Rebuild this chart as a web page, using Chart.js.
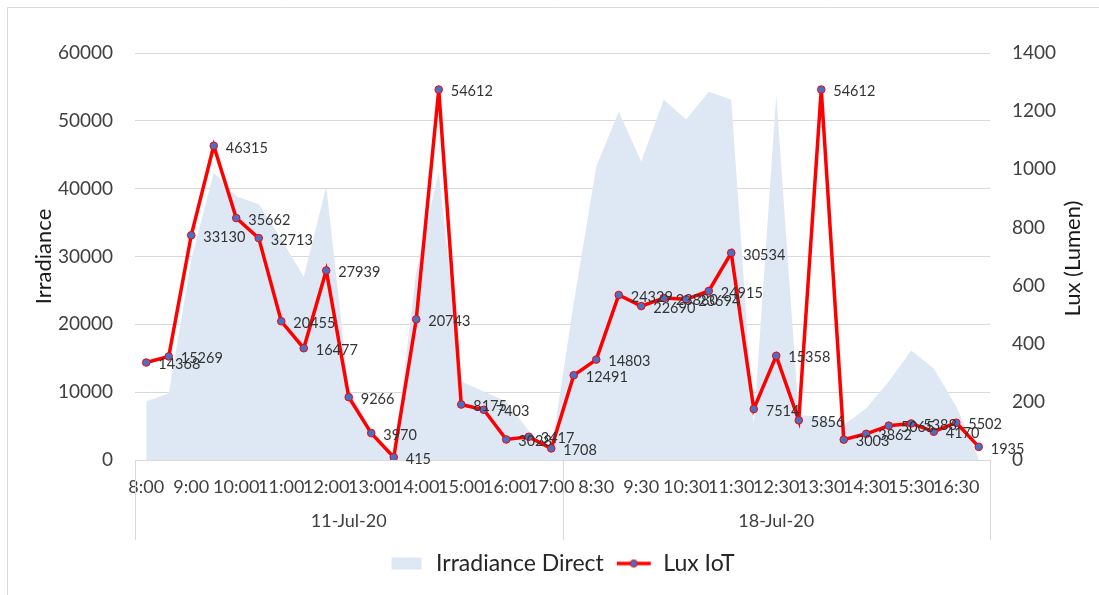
<!DOCTYPE html>
<html lang="en">
<head>
    <meta charset="UTF-8">
    <title>Irradiance vs Lux IoT</title>
    <script src="https://cdn.jsdelivr.net/npm/chart.js"></script>
    <style>
        html, body {
            margin: 0;
            padding: 0;
            background: #fff;
        }
        #chart {
            display: block;
        }
    </style>
</head>
<body>
    <canvas id="chart" width="1099" height="595"></canvas>
    <script>
        // datos
        const days = ['11-Jul-20', '18-Jul-20'];
        const times = ['8:00', '8:30', '9:00', '9:30', '10:00', '10:30', '11:00', '11:30', '12:00', '12:30',
                       '13:00', '13:30', '14:00', '14:30', '15:00', '15:30', '16:00', '16:30', '17:00'];

        // Lux IoT (eje izquierdo)
        const luxDay1 = [14368, 15269, 33130, 46315, 35662, 32713, 20455, 16477, 27939, 9266,
                         3970, 415, 20743, 54612, 8175, 7403, 3028, 3417, 1708];
        const luxDay2 = [12491, 14803, 24329, 22690, 23880, 23694, 24915, 30534, 7514, 15358,
                         5856, 54612, 3003, 3862, 5065, 5388, 4170, 5502, 1935];

        // Irradiance Direct (eje derecho)
        const irrDay1 = [202, 229, 690, 989, 907, 880, 760, 630, 941, 246,
                         100, 0, 647, 993, 270, 236, 202, 100, 30];
        const irrDay2 = [540, 1010, 1198, 1027, 1239, 1171, 1267, 1239, 120, 1256,
                         154, 150, 120, 178, 270, 377, 315, 185, 5];

        const leftTicks = { min: 0, max: 60000, step: 10000 };
        const rightTicks = { min: 0, max: 1400, step: 200 };

        const labels = [...times, ...times];
        const luxData = [...luxDay1, ...luxDay2];
        const irrData = [...irrDay1, ...irrDay2];

        const FONT = 'Lato, "Open Sans", sans-serif';
        const AREA_COLOR = '#dee8f4';
        const LINE_COLOR = '#ff0000';
        const DOT_COLOR = '#4472c4';

        // iconos de la leyenda
        function legendIcon(kind) {
            const c = document.createElement('canvas');
            c.width = 36;
            c.height = 14;
            const g = c.getContext('2d');
            if (kind === 'area') {
                g.fillStyle = AREA_COLOR;
                g.fillRect(3, 1, 30, 12);
            } else {
                g.strokeStyle = LINE_COLOR;
                g.lineWidth = 3.5;
                g.beginPath();
                g.moveTo(1, 7);
                g.lineTo(35, 7);
                g.stroke();
                g.fillStyle = DOT_COLOR;
                g.strokeStyle = LINE_COLOR;
                g.lineWidth = 1;
                g.beginPath();
                g.arc(18, 7, 3.6, 0, Math.PI * 2);
                g.fill();
                g.stroke();
            }
            return c;
        }
        const areaIcon = legendIcon('area');
        const lineIcon = legendIcon('line');

        // etiquetas de valores a la derecha de cada punto
        const valueLabels = {
            id: 'valueLabels',
            afterDatasetsDraw(chart) {
                const meta = chart.getDatasetMeta(0);
                const ctx = chart.ctx;
                ctx.save();
                ctx.font = '14.5px ' + FONT;
                ctx.fillStyle = '#333';
                ctx.textAlign = 'left';
                ctx.textBaseline = 'middle';
                meta.data.forEach((pt, i) => {
                    ctx.fillText(String(chart.data.datasets[0].data[i]), pt.x + 12, pt.y + 2);
                });
                ctx.restore();
            }
        };

        // marco, grupos de fechas y titulo del eje derecho
        const extras = {
            id: 'extras',
            afterLayout(chart) {
                // la leyenda original esta algo a la derecha del centro
                chart.legend.left += 12;
                chart.legend.right += 12;
            },
            beforeDraw(chart) {
                const ctx = chart.ctx;
                ctx.save();
                ctx.strokeStyle = '#d9d9d9';
                ctx.lineWidth = 1;
                ctx.beginPath();
                ctx.moveTo(7.5, chart.height);
                ctx.lineTo(7.5, 7.5);
                ctx.lineTo(chart.width, 7.5);
                ctx.stroke();
                ctx.restore();
            },
            afterDraw(chart) {
                const ctx = chart.ctx;
                const x = chart.scales.x;
                const area = chart.chartArea;
                const half = (x.getPixelForValue(1) - x.getPixelForValue(0)) / 2;
                const n = times.length;
                ctx.save();
                ctx.strokeStyle = '#d9d9d9';
                ctx.lineWidth = 1;
                ctx.font = '18px ' + FONT;
                ctx.fillStyle = '#404040';
                ctx.textAlign = 'center';
                ctx.textBaseline = 'middle';
                days.forEach((d, k) => {
                    const x0 = x.getPixelForValue(k * n) - half;
                    const x1 = x.getPixelForValue(k * n + n - 1) + half;
                    ctx.beginPath();
                    ctx.moveTo(Math.round(x0) + 0.5, area.bottom);
                    ctx.lineTo(Math.round(x0) + 0.5, area.bottom + 80);
                    ctx.moveTo(Math.round(x1) + 0.5, area.bottom);
                    ctx.lineTo(Math.round(x1) + 0.5, area.bottom + 80);
                    ctx.stroke();
                    ctx.fillText(d, (x0 + x1) / 2, area.bottom + 61);
                });
                // titulo derecho leido de abajo hacia arriba
                ctx.font = '22px ' + FONT;
                ctx.fillStyle = '#1a1a1a';
                ctx.translate(1073, (area.top + area.bottom) / 2 + 2);
                ctx.rotate(-Math.PI / 2);
                ctx.fillText('Lux (Lumen)', 0, 0);
                ctx.restore();
            }
        };

        const chart = new Chart(document.getElementById('chart'), {
            type: 'line',
            data: {
                labels: labels,
                datasets: [
                    {
                        label: 'Lux IoT',
                        data: luxData,
                        yAxisID: 'y',
                        borderColor: LINE_COLOR,
                        borderWidth: 3.5,
                        pointRadius: 3.8,
                        pointBackgroundColor: DOT_COLOR,
                        pointBorderColor: LINE_COLOR,
                        pointBorderWidth: 1,
                        tension: 0,
                        fill: false,
                        order: 0
                    },
                    {
                        label: 'Irradiance Direct',
                        data: irrData,
                        yAxisID: 'y1',
                        borderWidth: 0,
                        borderColor: AREA_COLOR,
                        backgroundColor: AREA_COLOR,
                        pointRadius: 0,
                        tension: 0,
                        fill: 'origin',
                        order: 1
                    }
                ]
            },
            options: {
                responsive: false,
                animation: false,
                layout: {
                    padding: { top: 53, bottom: 10, left: 0, right: 0 }
                },
                plugins: {
                    tooltip: { enabled: false },
                    legend: {
                        position: 'bottom',
                        labels: {
                            usePointStyle: true,
                            pointStyleWidth: 36,
                            boxHeight: 14,
                            padding: 12,
                            color: '#262626',
                            font: { family: FONT, size: 23 },
                            generateLabels: () => [
                                { text: 'Irradiance Direct', pointStyle: areaIcon, datasetIndex: 1, fontColor: '#262626', lineWidth: 0 },
                                { text: 'Lux IoT', pointStyle: lineIcon, datasetIndex: 0, fontColor: '#262626', lineWidth: 0 }
                            ]
                        }
                    }
                },
                scales: {
                    x: {
                        type: 'category',
                        offset: true,
                        grid: { display: false, drawTicks: false },
                        border: { display: true, color: '#d9d9d9' },
                        ticks: {
                            autoSkip: false,
                            maxRotation: 0,
                            minRotation: 0,
                            padding: 16,
                            color: '#404040',
                            font: { family: FONT, size: 18 },
                            callback: (v, i) => (i % 2 === 0 ? labels[i] : '')
                        },
                        afterFit: s => { s.height = 80; }
                    },
                    y: {
                        position: 'left',
                        min: leftTicks.min,
                        max: leftTicks.max,
                        grid: { color: '#d9d9d9', drawTicks: false },
                        border: { display: false },
                        ticks: {
                            stepSize: leftTicks.step,
                            padding: 22,
                            color: '#404040',
                            font: { family: FONT, size: 19 },
                            callback: v => String(v)
                        },
                        title: {
                            display: true,
                            text: 'Irradiance',
                            color: '#1a1a1a',
                            font: { family: FONT, size: 22 },
                            padding: { top: 31, bottom: 0 }
                        },
                        afterFit: s => { s.width = 135; }
                    },
                    y1: {
                        position: 'right',
                        min: rightTicks.min,
                        max: rightTicks.max,
                        grid: { display: false, drawTicks: false },
                        border: { display: false },
                        ticks: {
                            stepSize: rightTicks.step,
                            padding: 22,
                            color: '#404040',
                            font: { family: FONT, size: 19 },
                            callback: v => String(v)
                        },
                        afterFit: s => { s.width = 109; }
                    }
                }
            },
            plugins: [valueLabels, extras]
        });
    </script>
</body>
</html>
